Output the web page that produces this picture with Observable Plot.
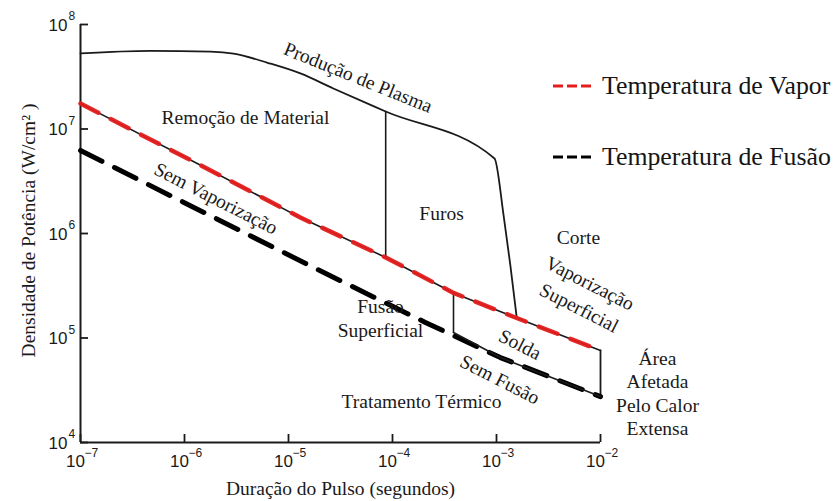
<!DOCTYPE html>
<html><head><meta charset="utf-8">
<script src="https://cdn.jsdelivr.net/npm/d3@7"></script>
<script src="https://cdn.jsdelivr.net/npm/@observablehq/plot@0.6"></script>
<style>
body{margin:0;background:#fff;}
#wrap{position:relative;width:835px;height:501px;overflow:hidden;}
.leg{position:absolute;left:553px;height:30px;display:flex;align-items:center;white-space:nowrap;
 font-family:'Liberation Serif','Times New Roman',serif;font-size:25.8px;color:#151515;}
.leg svg{margin-right:9px;}
</style></head><body><div id="wrap"></div>
<script>
// ---- data (pulse duration in s, power density in W/cm^2) ----
const xTicks = [1e-7, 1e-6, 1e-5, 1e-4, 1e-3, 1e-2];
const xExps = ["\u22127", "\u22126", "\u22125", "\u22124", "\u22123", "\u22122"];
const yTicks = [1e4, 1e5, 1e6, 1e7, 1e8];
const yExps = ["4", "5", "6", "7", "8"];

// Plasma production boundary (top solid curve)
const plasmaLine = [[1e-7,5.3e7],[4.7e-7,5.6e7],[1.78e-6,5.5e7],[2.96e-6,5.27e7],[6.3e-6,4.3e7],
  [1.3e-5,3.4e7],[2.7e-5,2.44e7],[8.6e-5,1.47e7],[9.57e-4,5.22e6],[1.17e-3,1.49e6],[1.36e-3,4.94e5],[1.56e-3,1.61e5]];
// Vaporization temperature (red dashed + thin black solid)
const vaporLine = [[1e-7,1.75e7],[1.43e-6,4.5e6],[1.3e-5,1.42e6],[8.6e-5,5.9e5],[3.86e-4,2.7e5],[1.52e-3,1.57e5],[1e-2,7.6e4]];
// Melting temperature (black dashed)
const fusionLine = [[1e-7,6.22e6],[1.74e-5,4.73e5],[2.07e-4,1.41e5],[1.09e-3,6.5e4],[1e-2,2.75e4]];
// Thin solid part of melting line (welding region)
const fusionSolid = [[3.86e-4,1.13e5],[1.09e-3,6.5e4],[1e-2,2.75e4]];
// Vertical boundaries
const drillBoundary = [[8.6e-5,1.47e7],[8.6e-5,5.9e5]];
const weldBoundary = [[3.86e-4,2.7e5],[3.86e-4,1.13e5]];
const haeBoundary = [[1e-2,7.6e4],[1e-2,2.75e4]];

// Region labels: [x, y, text, rotate]
const regionLabels = [
  [3.86e-6, 1.32e7, "Remoção de Material", 0],
  [4.71e-5, 3.18e7, "Produção de Plasma", 22],
  [2.03e-6, 2.21e6, "Sem Vaporização", 27],
  [2.96e-4, 1.59e6, "Furos", 0],
  [6.14e-3, 9.35e5, "Corte", 0],
  [8.0e-3, 3.4e5, "Vaporização", 27],
  [6.3e-3, 1.98e5, "Superficial", 27],
  [7.67e-5, 2.05e5, "Fusão", 0],
  [7.67e-5, 1.21e5, "Superficial", 0],
  [1.70e-3, 8.85e4, "Solda", 27],
  [1.09e-3, 4.09e4, "Sem Fusão", 27],
  [1.90e-4, 2.52e4, "Tratamento Térmico", 0],
  [3.53e-2, 3.0e4, "Área\nAfetada\nPelo Calor\nExtensa", 0]
];
const xTitle = "Duração do Pulso (segundos)";
const yTitle = "Densidade de Potência (W/cm\u00B2 )";
const legendItems = [["Temperatura de Vapor", "#e41e1e"], ["Temperatura de Fusão", "#000000"]];

const serif = "'Liberation Serif','Times New Roman',serif";
const sans = "'Liberation Sans',Arial,Helvetica,sans-serif";
const ink = "#1a1a1a";
const X = d => d[0], Y = d => d[1];

const chart = Plot.plot({
  width: 835, height: 501,
  marginLeft: 80, marginRight: 235, marginTop: 24, marginBottom: 59,
  x: {type: "log", domain: [1e-7, 1e-2], axis: null},
  y: {type: "log", domain: [1e4, 1e8], axis: null},
  style: {background: "white", overflow: "visible", fontFamily: serif},
  marks: [
    // axes
    Plot.ruleY([1e4], {x1: 1e-7, x2: 1e-2, stroke: ink, strokeWidth: 2}),
    Plot.ruleX([1e-7], {y1: 1e4, y2: 1e8, stroke: ink, strokeWidth: 2}),
    Plot.tickX(xTicks, {x: d => d, insetTop: 410, stroke: ink, strokeWidth: 1.8}),
    Plot.tickY(yTicks, {y: d => d, insetRight: 512, stroke: ink, strokeWidth: 1.8}),
    Plot.text(xTicks, {x: d => d, y: 1e4, text: () => "10", dx: -5, dy: 19, fontFamily: sans, fontSize: 17, fill: ink, textAnchor: "middle"}),
    Plot.text(xTicks, {x: d => d, y: 1e4, text: (d, i) => xExps[i], dx: 4, dy: 11, fontFamily: sans, fontSize: 12, fill: ink, textAnchor: "start"}),
    Plot.text(yTicks, {x: 1e-7, y: d => d, text: () => "10", dx: -13, dy: 1, fontFamily: sans, fontSize: 17, fill: ink, textAnchor: "end"}),
    Plot.text(yTicks, {x: 1e-7, y: d => d, text: (d, i) => yExps[i], dx: -12, dy: -8, fontFamily: sans, fontSize: 12, fill: ink, textAnchor: "start"}),
    Plot.text([xTitle], {frameAnchor: "bottom", dy: 46, lineAnchor: "middle", textAnchor: "middle", fontFamily: serif, fontSize: 19.5, fill: ink}),
    Plot.text([yTitle], {frameAnchor: "left", rotate: -90, dx: -52, dy: -3, textAnchor: "middle", lineAnchor: "middle", fontFamily: serif, fontSize: 19.5, fill: ink}),
    // boundaries
    Plot.line(plasmaLine, {x: X, y: Y, stroke: ink, strokeWidth: 1.8, curve: "monotone-x"}),
    Plot.line(drillBoundary, {x: X, y: Y, stroke: ink, strokeWidth: 1.6}),
    Plot.line(weldBoundary, {x: X, y: Y, stroke: ink, strokeWidth: 1.6}),
    Plot.line(haeBoundary, {x: X, y: Y, stroke: ink, strokeWidth: 1.8}),
    Plot.line(fusionLine, {x: X, y: Y, stroke: "#000", strokeWidth: 5, strokeDasharray: "24,14"}),
    Plot.line(fusionSolid, {x: X, y: Y, stroke: ink, strokeWidth: 1.6}),
    Plot.line(vaporLine, {x: X, y: Y, stroke: ink, strokeWidth: 1.6}),
    Plot.line(vaporLine, {x: X, y: Y, stroke: "#e41e1e", strokeWidth: 4.5, strokeDasharray: "20,14", strokeOpacity: 0.95}),
    // labels
    Plot.text(regionLabels, {x: d => d[0], y: d => d[1], text: d => d[2], rotate: d => d[3], fontFamily: serif, fontSize: 19.5, fill: ink, lineHeight: 1.2})
  ]
});
const wrap = document.getElementById("wrap");
wrap.appendChild(chart);
const tops = [71, 142];
legendItems.forEach(([label, color], i) => {
  const div = document.createElement("div");
  div.className = "leg";
  div.style.top = tops[i] + "px";
  div.innerHTML = `<svg width="40" height="6"><line x1="0" y1="3" x2="40" y2="3" stroke="${color}" stroke-width="3" stroke-dasharray="10,4"/></svg>`;
  const span = document.createElement("span");
  span.textContent = label;
  div.appendChild(span);
  wrap.appendChild(div);
});
</script></body></html>
